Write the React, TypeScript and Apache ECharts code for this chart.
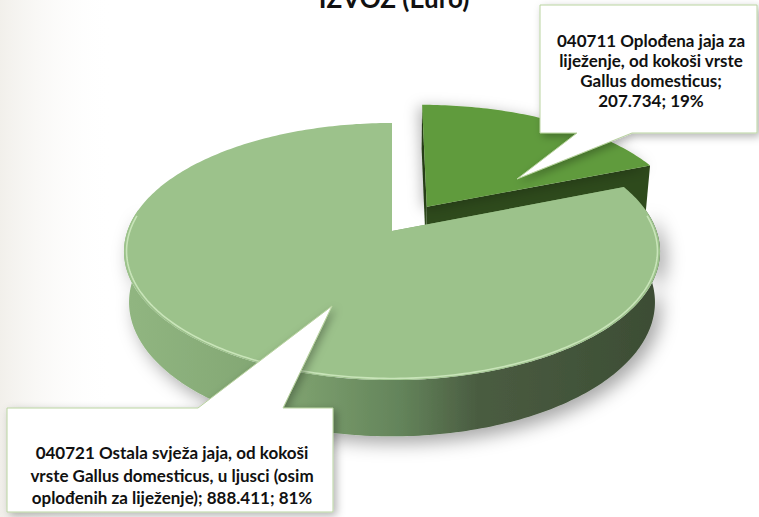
import React, { useEffect, useRef } from "react";
import * as echarts from "echarts";

// ---- data ----
const chartTitle = "IZVOZ (Euro)";
const categoryNames = [
  "040711 Oplođena jaja za\nliježenje, od kokoši vrste\nGallus domesticus",
  "040721 Ostala svježa jaja, od kokoši\nvrste Gallus domesticus, u ljusci (osim\noplođenih za liježenje)",
];
const seriesValues = [207734, 888411];
const labelSeparators = [";\n", "; "];
const explodedSlices = [true, false];

// ---- styles ----
const topColors = ["#619b3c", "#9cc28b"];
const faceColors = ["#2e4a1c", "#7fa36e"];
const wallStops = [
  [
    [0, "#3a5a26"],
    [1, "#22380f"],
  ],
  [
    [0, "#91b681"],
    [0.3, "#80a471"],
    [0.52, "#63835a"],
    [0.66, "#4a5c41"],
    [1, "#3c4d34"],
  ],
];

const total = seriesValues.reduce((a, b) => a + b, 0);
const fmtValue = (v: number) => v.toLocaleString("de-DE");
const pct = (v: number) => Math.round((v / total) * 100) + "%";
const labelTexts = seriesValues.map(
  (v, i) => categoryNames[i] + labelSeparators[i] + fmtValue(v) + "; " + pct(v)
);

// perspective pie geometry
const G = {
  cx: 392,
  cy: 231,
  R: 264.6,
  sinA: 0.4735,
  cosA: 0.881,
  D: 1459,
  depth: 58,
  explode: 64,
};

function proj(u: number, v: number, h: number): number[] {
  const yw = v * G.sinA - h * G.cosA;
  const z = v * G.cosA + h * G.sinA;
  const s = G.D / (G.D - z);
  return [G.cx + u * s, G.cy + yw * s];
}

function arcPts(a0: number, a1: number, h: number, ou: number, ov: number, r = G.R) {
  const pts: number[][] = [];
  const n = Math.max(2, Math.ceil(Math.abs(a1 - a0) / (Math.PI / 180)));
  for (let k = 0; k <= n; k++) {
    const t = a0 + ((a1 - a0) * k) / n;
    pts.push(proj(ou + r * Math.sin(t), ov - r * Math.cos(t), h));
  }
  return pts;
}

function renderItem(params: any, api: any) {
  const i = params.dataIndex;
  let before = 0;
  for (let k = 0; k < i; k++) before += seriesValues[k];
  const v = api.value(0);
  const a0 = (before / total) * Math.PI * 2;
  const a1 = ((before + v) / total) * Math.PI * 2;
  const mid = (a0 + a1) / 2;
  const e = explodedSlices[i] ? G.explode : 0;
  const ou = e * Math.sin(mid);
  const ov = -e * Math.cos(mid);
  const children: any[] = [];
  const H = -G.depth;

  // cut faces
  const cTop = proj(ou, ov, 0);
  const cBot = proj(ou, ov, H);
  [a0, a1].forEach((a) => {
    const rt = proj(ou + G.R * Math.sin(a), ov - G.R * Math.cos(a), 0);
    const rb = proj(ou + G.R * Math.sin(a), ov - G.R * Math.cos(a), H);
    children.push({
      type: "polygon",
      shape: { points: [cTop, rt, rb, cBot] },
      style: { fill: faceColors[i] },
    });
  });

  // outer wall (front part only)
  const w0 = Math.max(a0, (80 * Math.PI) / 180);
  const w1 = Math.min(a1, (280 * Math.PI) / 180);
  if (w1 > w0) {
    const topArc = arcPts(w0, w1, 0, ou, ov);
    const botArc = arcPts(w0, w1, H, ou, ov).reverse();
    children.push({
      type: "polygon",
      shape: { points: topArc.concat(botArc) },
      style: {
        fill: new echarts.graphic.LinearGradient(
          0,
          0,
          1,
          0,
          wallStops[i].map((s) => ({ offset: s[0] as number, color: s[1] as string }))
        ),
        shadowBlur: 18,
        shadowColor: "rgba(0,0,0,0.35)",
        shadowOffsetX: 6,
        shadowOffsetY: 7,
      },
    });
  }

  // top surface
  const topPts = [cTop].concat(arcPts(a0, a1, 0, ou, ov));
  children.push({
    type: "polygon",
    shape: { points: topPts },
    style: explodedSlices[i]
      ? {
          fill: topColors[i],
          shadowBlur: 14,
          shadowColor: "rgba(0,0,0,0.28)",
          shadowOffsetX: -4,
          shadowOffsetY: 2,
        }
      : { fill: topColors[i] },
  });

  // rim highlight along the front edge
  if (w1 > w0) {
    children.push({
      type: "polyline",
      shape: { points: arcPts(w0 + 0.05, w1 - 0.05, 0, ou, ov, G.R - 2.5) },
      style: { stroke: "rgba(205,232,190,0.9)", lineWidth: 1.6, fill: null },
    });
  }

  return { type: "group", children };
}

export default function App() {
  const ref = useRef<HTMLDivElement>(null);
  useEffect(() => {
    document.body.style.margin = "0";
    const chart = echarts.init(ref.current!, undefined, { renderer: "svg" });
    const labelFont = "bold 17px Lato";
    chart.setOption({
      animation: false,
      backgroundColor: "#ffffff",
      series: [
        {
          type: "custom",
          coordinateSystem: "none",
          renderItem,
          data: seriesValues.map((v, i) => ({ value: [v], name: categoryNames[i] })),
          silent: true,
        },
      ],
      graphic: [
        {
          type: "rect",
          z: -10,
          shape: { x: 0, y: 0, width: 759, height: 517 },
          style: {
            fill: new echarts.graphic.LinearGradient(0, 0, 1, 0, [
              { offset: 0, color: "rgba(236,233,226,0.7)" },
              { offset: 0.15, color: "rgba(255,255,255,0)" },
            ]),
          },
        },
        {
          type: "text",
          z: 20,
          x: 394,
          y: -2,
          style: {
            text: chartTitle,
            font: "bold 26px Lato",
            fill: "#111",
            align: "center",
            verticalAlign: "middle",
          },
        },
        {
          type: "polygon",
          z: 20,
          shape: {
            points: [
              [540, 5],
              [757, 5],
              [757, 133],
              [632, 133],
              [517, 179],
              [577, 133],
              [540, 133],
            ],
          },
          style: {
            fill: "#ffffff",
            stroke: "#b9d3a0",
            lineWidth: 1,
            shadowBlur: 8,
            shadowColor: "rgba(0,0,0,0.3)",
            shadowOffsetX: 3,
            shadowOffsetY: 3,
          },
        },
        {
          type: "text",
          z: 21,
          x: 651,
          y: 70,
          style: {
            text: labelTexts[0],
            font: labelFont,
            lineHeight: 20,
            fill: "#111",
            align: "center",
            verticalAlign: "middle",
          },
        },
        {
          type: "polygon",
          z: 20,
          shape: {
            points: [
              [7, 408],
              [198, 408],
              [332, 306],
              [283, 408],
              [333, 408],
              [333, 512],
              [7, 512],
            ],
          },
          style: {
            fill: "#ffffff",
            stroke: "#b9d3a0",
            lineWidth: 1,
            shadowBlur: 8,
            shadowColor: "rgba(0,0,0,0.3)",
            shadowOffsetX: 3,
            shadowOffsetY: 3,
          },
        },
        {
          type: "text",
          z: 21,
          x: 172,
          y: 475,
          style: {
            text: labelTexts[1],
            font: labelFont,
            lineHeight: 22.5,
            fill: "#111",
            align: "center",
            verticalAlign: "middle",
          },
        },
      ],
    });
    return () => chart.dispose();
  }, []);
  return <div ref={ref} style={{ width: 759, height: 517 }} />;
}
